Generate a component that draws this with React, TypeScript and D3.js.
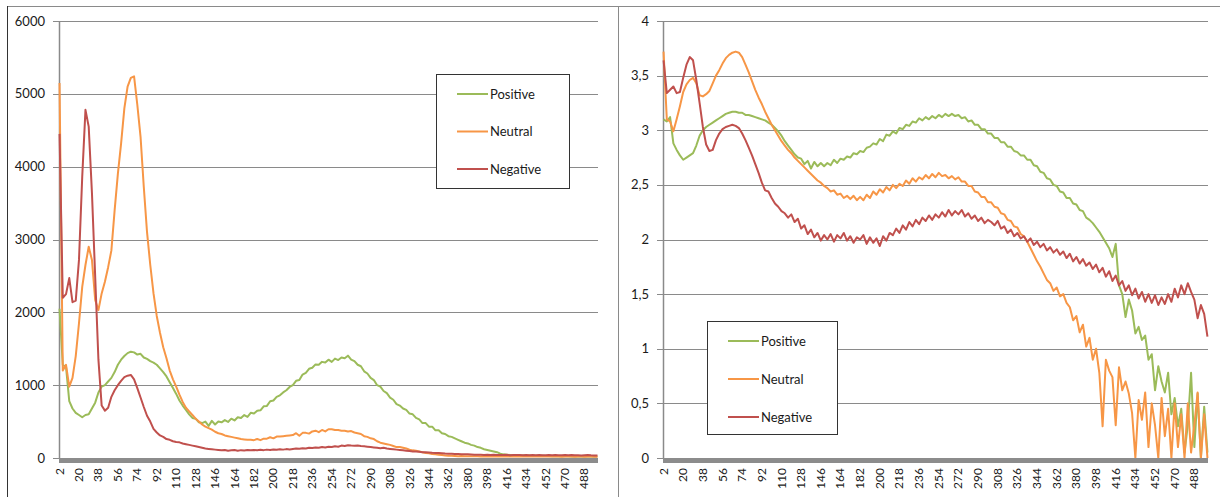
import React, { useEffect, useRef } from 'react';
import * as d3 from 'd3';

// category axis 2..500, values read every 3rd category
const categories = d3.range(2, 501).map(String);
const sampleCats = d3.range(2, 501, 3).map(String);
const labelCats = d3.range(2, 501, 18).map(String);

const seriesNames = ['Positive', 'Neutral', 'Negative'];
const seriesColors = ['#9BBB59', '#F79646', '#C0504D'];

const leftTicks = [0, 1000, 2000, 3000, 4000, 5000, 6000];
const rightTicks = [0, 0.5, 1, 1.5, 2, 2.5, 3, 3.5, 4];

// left chart (counts)
const leftPositive = [
  2050, 1280, 1250, 780, 680, 620, 590, 560, 590, 600,
  680, 760, 900, 980, 1000, 1050, 1100, 1180, 1280, 1350,
  1400, 1440, 1460, 1450, 1420, 1430, 1380, 1360, 1330, 1310,
  1280, 1230, 1180, 1120, 1040, 960, 880, 790, 720, 660,
  600, 550, 540, 490, 480, 500, 440, 510, 460, 500,
  490, 520, 495, 540, 515, 560, 550, 590, 565, 620,
  610, 650, 655, 710, 715, 780, 790, 840, 860, 900,
  930, 975, 1000, 1060, 1070, 1145, 1170, 1225, 1240, 1285,
  1280, 1320, 1310, 1350, 1320, 1365, 1345, 1380, 1370, 1405,
  1350, 1330, 1280, 1260, 1190, 1160, 1100, 1070, 1000, 980,
  920, 890, 830, 800, 740, 720, 680, 660, 610, 600,
  550, 530, 480, 480, 430, 430, 380, 380, 340, 330,
  300, 290, 270, 250, 230, 210, 200, 180, 170, 150,
  140, 120, 110, 100, 90, 80, 60, 50, 45, 40,
  35, 38, 32, 35, 30, 33, 28, 30, 27, 30,
  26, 28, 25, 27, 24, 26, 23, 25, 22, 24,
  21, 23, 20, 22, 20, 21, 19,
];
const leftNeutral = [
  5150, 1200, 1280, 980, 1100, 1400, 1850, 2350, 2650, 2900,
  2720, 2170, 2030, 2260, 2420, 2620, 2850, 3400, 3900, 4320,
  4800, 5100, 5220, 5240, 4850, 4410, 3720, 3100, 2650, 2260,
  1950, 1720, 1520, 1370, 1200, 1080, 980, 870, 770, 690,
  640, 590, 540, 500, 460, 430, 410, 390, 360, 340,
  330, 310, 300, 290, 280, 270, 260, 255, 250, 250,
  245, 260, 245, 265, 265, 285, 270, 295, 295, 300,
  305, 310, 315, 340, 305, 345, 345, 335, 365, 375,
  355, 385, 365, 395, 395, 385, 385, 375, 375, 365,
  370, 350, 340, 330, 300, 290, 270, 260, 230, 210,
  200, 190, 180, 165, 150, 150, 140, 130, 115, 105,
  100, 90, 80, 70, 65, 55, 50, 45, 40, 35,
  30, 30, 28, 25, 27, 25, 24, 25, 23, 24,
  22, 24, 21, 23, 22, 20, 23, 21, 22, 20,
  21, 23, 20, 22, 21, 19, 22, 20, 21, 19,
  20, 22, 19, 21, 20, 18, 21, 19, 20, 18,
  19, 21, 18, 20, 19, 18, 17,
];
const leftNegative = [
  4450, 2200, 2250, 2470, 2140, 2160, 2720, 3860, 4780, 4550,
  3640, 2490, 1350, 720, 650, 690, 840, 930, 1000, 1060,
  1110, 1130, 1140, 1080, 960, 830, 700, 580, 500, 400,
  350, 310, 290, 260, 250, 230, 220, 215, 200, 190,
  180, 170, 160, 150, 140, 130, 125, 120, 115, 110,
  105, 110, 100, 105, 110, 100, 108, 102, 110, 105,
  110, 105, 112, 108, 115, 110, 118, 112, 120, 115,
  122, 118, 125, 130, 126, 135, 130, 140, 136, 145,
  140, 150, 145, 155, 150, 160, 155, 170, 165, 175,
  170, 168, 172, 165, 160, 155, 150, 145, 140, 135,
  140, 130, 125, 120, 115, 110, 105, 100, 95, 90,
  88, 85, 80, 78, 75, 72, 70, 68, 65, 62,
  60, 58, 55, 55, 52, 50, 50, 48, 46, 45,
  44, 42, 45, 40, 43, 41, 42, 40, 43, 39,
  41, 40, 42, 38, 41, 39, 40, 38, 41, 37,
  39, 41, 38, 40, 37, 39, 41, 38, 40, 37,
  39, 36, 38, 40, 37, 35, 33,
];

// right chart (averages)
const rightPositive = [
  3.10, 3.08, 3.12, 2.88, 2.82, 2.77, 2.73, 2.75, 2.77, 2.79,
  2.86, 2.95, 3.00, 3.03, 3.05, 3.07, 3.09, 3.11, 3.13, 3.15,
  3.16, 3.17, 3.17, 3.16, 3.16, 3.14, 3.14, 3.13, 3.12, 3.11,
  3.10, 3.09, 3.07, 3.05, 3.02, 2.99, 2.95, 2.90, 2.86, 2.82,
  2.78, 2.75, 2.74, 2.69, 2.72, 2.65, 2.71, 2.67, 2.70, 2.67,
  2.70, 2.68, 2.73, 2.70, 2.74, 2.73, 2.76, 2.75, 2.79, 2.78,
  2.81, 2.80, 2.84, 2.85, 2.88, 2.87, 2.92, 2.90, 2.96, 2.95,
  2.99, 2.97, 3.02, 3.01, 3.05, 3.04, 3.08, 3.07, 3.11, 3.09,
  3.12, 3.10, 3.13, 3.11, 3.14, 3.12, 3.15, 3.13, 3.15, 3.13,
  3.14, 3.11, 3.12, 3.08, 3.09, 3.05, 3.05, 3.01, 3.01, 2.97,
  2.97, 2.93, 2.93, 2.89, 2.89, 2.85, 2.85, 2.81, 2.80, 2.77,
  2.77, 2.73, 2.73, 2.68, 2.67, 2.62, 2.61, 2.56, 2.55, 2.50,
  2.49, 2.44, 2.43, 2.38, 2.38, 2.33, 2.32, 2.27, 2.26, 2.20,
  2.18, 2.15, 2.11, 2.07, 2.02, 1.97, 1.92, 1.84, 1.96, 1.58,
  1.50, 1.29, 1.45, 1.35, 1.14, 1.20, 1.08, 1.12, 0.90, 0.95,
  0.62, 0.84, 0.70, 0.60, 0.78, 0.40, 0.55, 0.29, 0.45, 0.05,
  0.30, 0.78, 0.10, 0.59, 0.00, 0.47, 0.05,
];
const rightNeutral = [
  3.72, 3.10, 3.08, 2.99, 3.10, 3.22, 3.35, 3.42, 3.46, 3.48,
  3.43, 3.32, 3.31, 3.33, 3.36, 3.43, 3.50, 3.55, 3.61, 3.66,
  3.69, 3.71, 3.72, 3.71, 3.67, 3.60, 3.53, 3.45, 3.37, 3.30,
  3.24, 3.17, 3.11, 3.05, 3.00, 2.95, 2.90, 2.86, 2.82, 2.79,
  2.75, 2.72, 2.69, 2.66, 2.63, 2.60, 2.57, 2.54, 2.52, 2.49,
  2.47, 2.44, 2.45, 2.41, 2.42, 2.38, 2.40, 2.37, 2.40, 2.36,
  2.39, 2.36, 2.41, 2.38, 2.44, 2.41, 2.46, 2.43, 2.48, 2.45,
  2.50, 2.47, 2.51, 2.49, 2.54, 2.51, 2.56, 2.53, 2.57, 2.55,
  2.59, 2.56, 2.60, 2.57, 2.61, 2.58, 2.59, 2.56, 2.58, 2.55,
  2.57, 2.53, 2.53, 2.49, 2.49, 2.44, 2.43, 2.39, 2.39, 2.34,
  2.34, 2.30, 2.29, 2.24, 2.23, 2.18, 2.17, 2.12, 2.11, 2.05,
  2.03, 1.98, 1.92, 1.86, 1.80, 1.75, 1.69, 1.63, 1.60, 1.53,
  1.56, 1.48, 1.50, 1.42, 1.38, 1.26, 1.30, 1.15, 1.22, 1.02,
  1.10, 0.90, 1.00, 0.78, 0.29, 0.90, 0.80, 0.74, 0.30, 0.83,
  0.62, 0.70, 0.59, 0.41, 0.00, 0.53, 0.35, 0.60, 0.10, 0.50,
  0.30, 0.00, 0.55, 0.20, 0.45, 0.00, 0.50, 0.10, 0.40, 0.00,
  0.50, 0.05, 0.30, 0.60, 0.00, 0.40, 0.00,
];
const rightNegative = [
  3.64, 3.34, 3.37, 3.40, 3.34, 3.35, 3.48, 3.60, 3.67, 3.64,
  3.46, 3.25, 3.03, 2.87, 2.81, 2.82, 2.91, 2.97, 3.01, 3.03,
  3.04, 3.05, 3.04, 3.02, 2.97, 2.91, 2.84, 2.77, 2.69, 2.61,
  2.52, 2.45, 2.44, 2.38, 2.33, 2.30, 2.26, 2.24, 2.20, 2.23,
  2.16, 2.19, 2.10, 2.13, 2.05, 2.09, 2.02, 2.06, 1.99, 2.04,
  2.00, 2.05, 1.98, 2.04, 2.01, 2.06, 1.99, 2.03, 1.97, 2.02,
  2.00, 2.04, 1.96, 2.02, 1.97, 2.01, 1.94, 2.03, 1.99, 2.06,
  2.04, 2.10, 2.06, 2.13, 2.09, 2.16, 2.12, 2.18, 2.14, 2.20,
  2.17, 2.22, 2.18, 2.23, 2.20, 2.25, 2.21, 2.27, 2.22, 2.26,
  2.23, 2.27, 2.21, 2.24, 2.19, 2.22, 2.17, 2.20, 2.15, 2.18,
  2.16, 2.13, 2.17, 2.10, 2.12, 2.06, 2.09, 2.03, 2.06, 2.01,
  2.03, 1.98, 2.01, 1.95, 1.98, 1.93, 1.96, 1.90, 1.93, 1.88,
  1.91, 1.86, 1.89, 1.83, 1.87, 1.80, 1.84, 1.78, 1.82, 1.76,
  1.79, 1.73, 1.77, 1.70, 1.74, 1.66, 1.71, 1.62, 1.67, 1.58,
  1.62, 1.53, 1.58, 1.49, 1.55, 1.46, 1.52, 1.43, 1.50, 1.42,
  1.49, 1.40, 1.47, 1.41, 1.50, 1.43, 1.55, 1.47, 1.58, 1.50,
  1.60, 1.52, 1.45, 1.28, 1.40, 1.32, 1.11,
];

const FONT = 'Lato, "Open Sans", sans-serif';

const drawPanel = (svg, opts) => {
  const { left, right, top, bottom, max, ticks, fmt, series, legend } = opts;
  const g = svg.append('g');

  const x = d3.scaleBand().domain(categories).range([left, right]).padding(0);
  const y = d3.scaleLinear().domain([0, max]).range([bottom, top]);
  const half = x.bandwidth() / 2;

  // gridlines + tick marks
  g.selectAll('.grid')
    .data(ticks.filter(t => t > 0))
    .enter()
    .append('line')
    .attr('x1', left - 6)
    .attr('x2', right)
    .attr('y1', d => Math.round(y(d)) + 0.5)
    .attr('y2', d => Math.round(y(d)) + 0.5)
    .attr('stroke', '#8a8a8a')
    .attr('stroke-width', 1);

  // y labels
  g.selectAll('.ylab')
    .data(ticks)
    .enter()
    .append('text')
    .attr('x', left - 14)
    .attr('y', d => y(d))
    .attr('dy', '0.35em')
    .attr('text-anchor', 'end')
    .style('font-family', FONT)
    .style('font-size', '13px')
    .style('fill', '#1a1a1a')
    .text(d => fmt(d));

  // value axis line
  g.append('line')
    .attr('x1', left + 0.5)
    .attr('x2', left + 0.5)
    .attr('y1', top)
    .attr('y2', bottom)
    .attr('stroke', '#8a8a8a')
    .attr('stroke-width', 1.5);

  // series
  const line = d3
    .line()
    .x((d, i) => x(sampleCats[i]) + half)
    .y(d => y(d));

  series.forEach((values, k) => {
    g.append('path')
      .datum(values)
      .attr('d', line)
      .attr('fill', 'none')
      .attr('stroke', seriesColors[k])
      .attr('stroke-width', 2)
      .attr('stroke-linejoin', 'round');
  });

  // thick category axis
  g.append('line')
    .attr('x1', left - 6)
    .attr('x2', right)
    .attr('y1', bottom + 0.5)
    .attr('y2', bottom + 0.5)
    .attr('stroke', '#8a8a8a')
    .attr('stroke-width', 1);
  g.append('rect')
    .attr('x', left)
    .attr('y', bottom)
    .attr('width', right - left)
    .attr('height', 5)
    .attr('fill', '#8c8c8c');

  // category labels
  g.selectAll('.xlab')
    .data(labelCats)
    .enter()
    .append('text')
    .attr('transform', d => `translate(${x(d) + half + 4},${bottom + 10}) rotate(-90)`)
    .attr('text-anchor', 'end')
    .style('font-family', FONT)
    .style('font-size', '12px')
    .style('fill', '#1a1a1a')
    .text(d => d);

  // legend
  const lg = g.append('g');
  lg.append('rect')
    .attr('x', legend.x + 0.5)
    .attr('y', legend.y + 0.5)
    .attr('width', legend.w)
    .attr('height', legend.h)
    .attr('fill', '#fff')
    .attr('stroke', '#333')
    .attr('stroke-width', 1);
  seriesNames.forEach((name, k) => {
    const cy = legend.y + 20 + k * legend.step;
    lg.append('line')
      .attr('x1', legend.x + 21)
      .attr('x2', legend.x + 52)
      .attr('y1', cy)
      .attr('y2', cy)
      .attr('stroke', seriesColors[k])
      .attr('stroke-width', 2);
    lg.append('text')
      .attr('x', legend.x + 54)
      .attr('y', cy)
      .attr('dy', '0.35em')
      .style('font-family', FONT)
      .style('font-size', '13px')
      .style('fill', '#1a1a1a')
      .text(name);
  });
};

const App = () => {
  const ref = useRef(null);

  useEffect(() => {
    const svg = d3.select(ref.current);
    svg.selectAll('*').remove();

    // panel frames
    svg.append('line').attr('x1', 7).attr('x2', 1220).attr('y1', 6.5).attr('y2', 6.5).attr('stroke', '#8a8a8a');
    svg.append('line').attr('x1', 7.5).attr('x2', 7.5).attr('y1', 6).attr('y2', 497).attr('stroke', '#333');
    svg.append('line').attr('x1', 618.5).attr('x2', 618.5).attr('y1', 6).attr('y2', 497).attr('stroke', '#8a8a8a');

    drawPanel(svg, {
      left: 59,
      right: 598,
      top: 21,
      bottom: 458,
      max: 6000,
      ticks: leftTicks,
      fmt: d => String(d),
      series: [leftPositive, leftNeutral, leftNegative],
      legend: { x: 436, y: 74, w: 133, h: 114, step: 37.5 },
    });

    drawPanel(svg, {
      left: 663,
      right: 1208,
      top: 21,
      bottom: 458,
      max: 4,
      ticks: rightTicks,
      fmt: d => String(d).replace('.', ','),
      series: [rightPositive, rightNeutral, rightNegative],
      legend: { x: 707, y: 321, w: 130, h: 113, step: 38 },
    });
  }, []);

  return (
    <svg
      ref={ref}
      width={1225}
      height={497}
      style={{ position: 'absolute', left: 0, top: 0, background: '#fff' }}
    />
  );
};

export default App;
